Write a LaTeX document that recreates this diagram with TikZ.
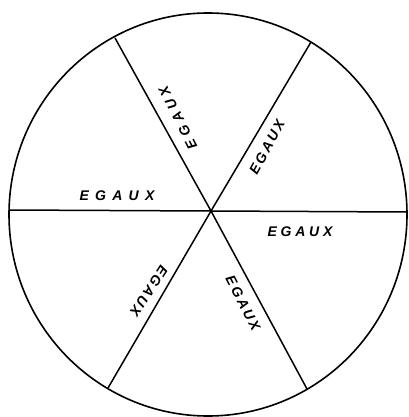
\documentclass[tikz,border=0pt]{standalone}
\usepackage{fontspec}
\setmainfont{Liberation Sans}
\newcommand\egauxtxt[1]{E\kern#1G\kern#1A\kern#1U\kern#1X}
\begin{document}
\begin{tikzpicture}[x=1pt,y=-1pt,
  rim/.style={line width=1.6pt},
  spoke/.style={line width=1.5pt},
  lbl/.style={font=\fontsize{14}{14}\selectfont\bfseries\itshape, inner sep=0pt}]
\useasboundingbox (0,0) rectangle (408,417);
\coordinate (O) at (211,211);
\coordinate (W) at (9,210);
\coordinate (E) at (407,212);
\coordinate (UL) at (115,38);
\coordinate (UR) at (311,42);
\coordinate (LL) at (108,388);
\coordinate (LR) at (307,389);
\draw[rim] (208,214.5) ellipse [x radius=199, y radius=201.5];
\draw[spoke] (W) -- (O) -- (E);
\draw[spoke] (UL) -- (O) -- (LR);
\draw[spoke] (UR) -- (O) -- (LL);
\node[lbl, rotate=117] (t1) at (178,118) {\egauxtxt{4.5pt}};
\node[lbl, rotate=62] (t2) at (267,147) {\egauxtxt{2.5pt}};
\node[lbl] (t3) at (117,196) {\egauxtxt{6.3pt}};
\node[lbl] (t4) at (300,232) {\egauxtxt{3.8pt}};
\node[lbl, rotate=-123] (t5) at (149,291) {\egauxtxt{2pt}};
\node[lbl, rotate=-63] (t6) at (243,303) {\egauxtxt{2.5pt}};
\end{tikzpicture}
\end{document}
